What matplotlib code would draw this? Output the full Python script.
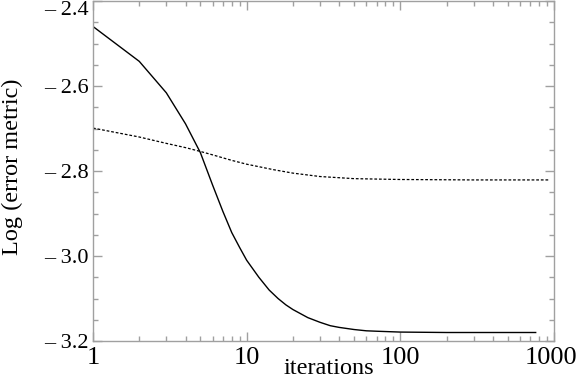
import matplotlib
matplotlib.use("Agg")
import matplotlib.pyplot as plt
from matplotlib.ticker import FixedLocator, NullFormatter, LogLocator

# data
solid_x = [1, 2, 3, 4, 5, 6, 7, 8, 9, 10, 12, 14, 16, 18, 20, 25, 30, 35, 40, 50, 60, 70,
           100, 200, 400, 760]
solid_y = [-2.460, -2.542, -2.616, -2.689, -2.757, -2.833, -2.895, -2.945, -2.980, -3.010,
           -3.050, -3.080, -3.100, -3.115, -3.126, -3.145, -3.156, -3.164, -3.168, -3.173,
           -3.176, -3.177, -3.179, -3.180, -3.180, -3.180]
dashed_x = [1, 2, 3, 4, 5, 6, 7, 8, 10, 15, 20, 30, 50, 100, 300, 930]
dashed_y = [-2.699, -2.720, -2.735, -2.745, -2.754, -2.762, -2.769, -2.775, -2.784, -2.797,
            -2.805, -2.813, -2.818, -2.820, -2.821, -2.821]
y_ticks = [-2.4, -2.6, -2.8, -3.0, -3.2]
x_ticks = [1, 10, 100, 1000]
x_tick_labels = ["1", "10", "100", "1000"]

plt.rcParams['font.family'] = ['Liberation Serif', 'DejaVu Serif']

fig = plt.figure(figsize=(5.78, 3.79), dpi=100)
ax = fig.add_axes([93/578, 38/379, (554-93)/578, (341-1)/379])

ax.plot(solid_x, solid_y, color='black', lw=1.0)
ax.plot(dashed_x, dashed_y, color='black', lw=0.9, linestyle=(0, (2.2, 1.5)))

ax.set_xscale('log')
ax.set_xlim(1, 1000)
ax.set_ylim(-3.2, -2.4)

gray = '#a0a0a0'
for s in ax.spines.values():
    s.set_color(gray)
    s.set_linewidth(1.0)

# last x tick label is drawn separately so it stays inside the figure
ax.set_xticks(x_ticks)
ax.set_xticklabels(x_tick_labels[:-1] + [""])
ax.xaxis.set_minor_locator(LogLocator(base=10, subs=range(2, 10)))
ax.xaxis.set_minor_formatter(NullFormatter())
ax.set_yticks(y_ticks)
ax.set_yticklabels(["\u2013 %.1f" % abs(v) for v in y_ticks])
ax.yaxis.set_minor_locator(FixedLocator([-2.4 - 0.05 * i for i in range(17)]))

ax.tick_params(which='both', direction='in', top=True, right=True, color=gray, width=1.0)
ax.tick_params(which='major', length=6.5)
ax.tick_params(which='minor', length=3.6)
ax.tick_params(axis='x', which='major', pad=4, labelsize=19)
ax.tick_params(axis='y', which='major', pad=3, labelsize=16)

for lab in ax.get_yticklabels():
    lab.set_verticalalignment('center_baseline')
ax.get_yticklabels()[0].set_verticalalignment('top')

fig.draw_without_rendering()
ref_lab = ax.get_xticklabels()[2]
ref_y = ref_lab.get_window_extent().y0 / fig.bbox.height
fig.text(577/578, ref_y, x_tick_labels[-1], ha='right', va='bottom', fontsize=19)

fig.text(329/578, 1 - 368/379, "iterations", ha='center', va='center', fontsize=17.5)
fig.text(12/578, 1 - 167/379, "Log (error metric)", ha='center', va='center',
         rotation=90, fontsize=17.5)

fig.savefig("out.png", dpi=100)
